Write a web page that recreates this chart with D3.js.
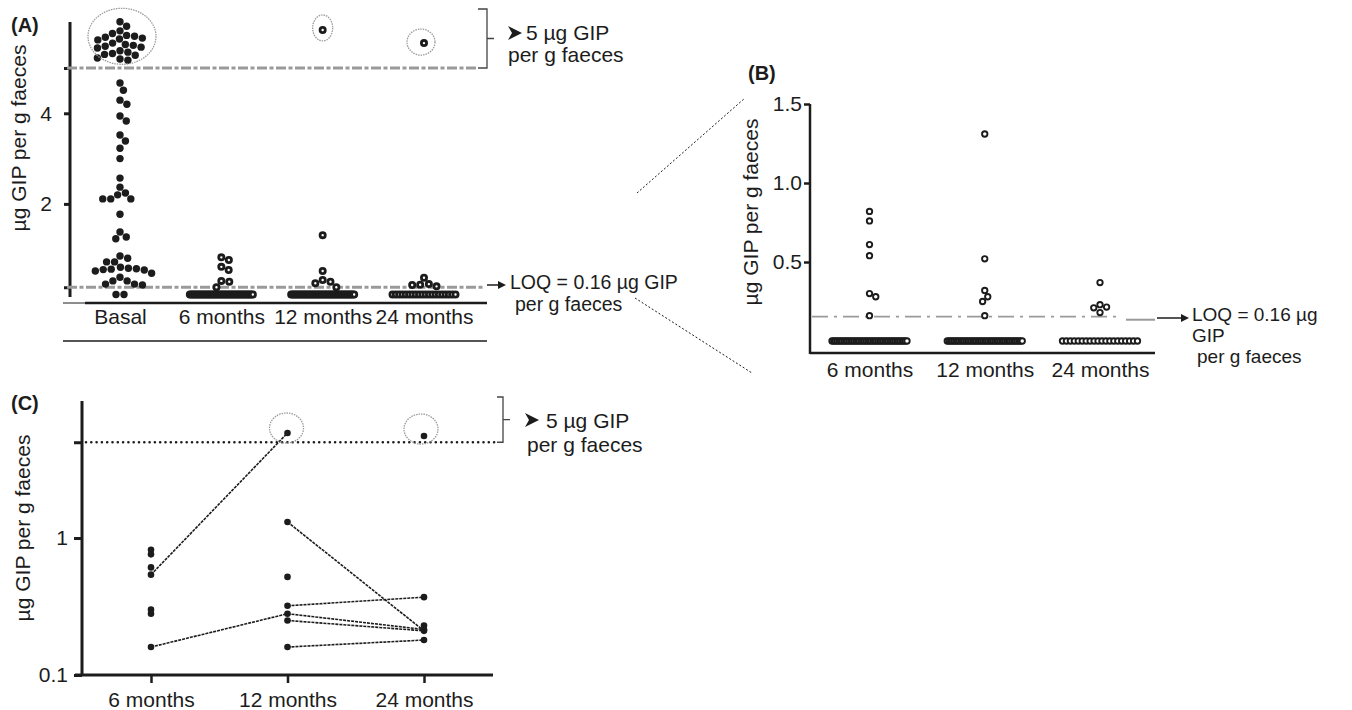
<!DOCTYPE html>
<html>
<head>
<meta charset="utf-8">
<script src="https://cdn.jsdelivr.net/npm/d3@7"></script>
<style>
  body { margin: 0; background: #fff; }
</style>
</head>
<body>
<div id="fig"></div>
<script>
// ---- data (µg GIP per g faeces) ----
const groupsA = ["Basal", "6 months", "12 months", "24 months"]
const groupsBC = ["6 months", "12 months", "24 months"]

const basal = [6.02, 5.92, 5.82, 5.76, 5.72, 5.7, 5.68, 5.66, 5.64, 5.62, 5.55, 5.52, 5.5,
    5.48, 5.46, 5.44, 5.38, 5.35, 5.32, 5.3, 5.28, 5.22, 5.2, 5.17,
    4.67, 4.51, 4.29, 4.2, 3.94, 3.83, 3.52, 3.39, 3.23, 3.0, 2.57, 2.37, 2.24, 2.2, 2.11, 2.11, 2.11,
    1.77, 1.38, 1.27, 1.23, 0.85, 0.8, 0.72, 0.72, 0.6, 0.58, 0.57, 0.56, 0.55, 0.54, 0.52, 0.47,
    0.38, 0.3, 0.3, 0.23, 0.21, 0.23]
const month6 = [0.82, 0.76, 0.61, 0.54, 0.3, 0.28, 0.16]
const month12 = [5.84, 1.31, 0.52, 0.32, 0.28, 0.25, 0.16]
const month24 = [5.55, 0.37, 0.23, 0.215, 0.21, 0.18]
// samples under the LOQ, drawn on the zero line (Basal, 6, 12, 24 months)
const belowLoq = [2, 45, 45, 20]

const loq = 0.16
const highCut = 5

const ticksA = [loq, 2, 4, highCut]
const ticksB = [0.5, 1.0, 1.5]
const ticksC = [0.1, 1, highCut]

// paired samples joined in panel C
const from6 = [0.54, 0.16], to12 = [5.84, 0.28]
const from12 = [1.31, 0.32, 0.28, 0.25, 0.16], to24 = [0.21, 0.37, 0.215, 0.21, 0.18]

// ---- setup ----
const font = '"Liberation Sans", Arial, sans-serif'
const ink = "#1c1c1c"
const grey = "#9a9a9a"

const svg = d3.select("#fig").append("svg")
    .attr("width", 1352)
    .attr("height", 710)
    .style("font-family", font)

// beeswarm: nearest free offset from the column centre
function swarm(vals, y, diam) {
    const placed = []
    vals.slice().sort((a, b) => b - a).forEach(v => {
        const py = y(v)
        const cands = [0]
        placed.forEach(p => {
            const dy = py - p.y
            if (Math.abs(dy) < diam) {
                const dx = Math.sqrt(diam * diam - dy * dy)
                cands.push(p.dx + dx, p.dx - dx)
            }
        })
        cands.sort((a, b) => Math.abs(a) - Math.abs(b))
        const dx = cands.find(c => placed.every(p => (p.dx - c) ** 2 + (p.y - py) ** 2 >= diam * diam - 0.01))
        placed.push({ v, y: py, dx })
    })
    return placed
}

// a packed row for the points below LOQ
function zeroRow(n, width, gap) {
    const s = n > 1 ? Math.min(gap, width / (n - 1)) : 0
    return d3.range(n).map(i => (i - (n - 1) / 2) * s)
}

function styleAxis(g, size, w) {
    g.select(".domain").remove()
    g.selectAll("text").attr("font-size", size).attr("font-family", font).attr("fill", ink)
    g.selectAll("line").attr("stroke", ink).attr("stroke-width", w)
}

function yLabel(x, y, txt) {
    svg.append("text")
        .attr("transform", `translate(${x}, ${y}) rotate(-90)`)
        .attr("text-anchor", "middle")
        .attr("font-size", 21)
        .attr("fill", ink)
        .text(txt)
}

function panelTag(x, y, txt) {
    svg.append("text").attr("x", x).attr("y", y)
        .attr("font-size", 20).attr("font-weight", "bold").attr("fill", ink)
        .text(txt)
}

function note(x, y, txt, size = 21) {
    svg.append("text").attr("x", x).attr("y", y)
        .attr("font-size", size).attr("fill", ink)
        .text(txt)
}

function arrowHead(x, y) {
    // the little 3D arrowhead in front of "5 µg GIP"
    svg.append("path")
        .attr("d", `M${x},${y - 7} L${x + 14},${y} L${x},${y + 7} L${x + 4},${y} Z`)
        .attr("fill", ink)
}

function bracket(x0, x1, yTop, yBot) {
    svg.append("path")
        .attr("d", `M${x0},${yTop} H${x1} V${yBot} H${x0} M${x1},${(yTop + yBot) / 2} H${x1 + 7}`)
        .attr("fill", "none").attr("stroke", "#444").attr("stroke-width", 1.3)
}

function ring(sel, cx, cy, rx, ry) {
    sel.append("ellipse")
        .attr("cx", cx).attr("cy", cy).attr("rx", rx).attr("ry", ry)
        .attr("fill", "none").attr("stroke", grey).attr("stroke-width", 1.3)
        .attr("stroke-dasharray", "1.5,1")
}

// ================= Panel A =================
const xA = d3.scalePoint().domain(groupsA).range([120, 424])
const yA = d3.scaleLinear().domain([0, 6]).range([294.5, 22.7])
const gA = svg.append("g")

panelTag(11, 32, "(A)")
yLabel(26, 138, "µg GIP per g faeces")

// y axis
gA.append("line").attr("x1", 70).attr("x2", 70).attr("y1", 22).attr("y2", 297)
    .attr("stroke", ink).attr("stroke-width", 3)
gA.append("g")
    .attr("transform", "translate(70, 0)")
    .call(d3.axisLeft(yA).tickValues(ticksA).tickSize(6).tickPadding(12)
        .tickFormat(d => (d === 2 || d === 4) ? d : ""))
    .call(g => styleAxis(g, 21, 3))

// x axis (labels only, plus the two rules)
gA.append("line").attr("x1", 63).attr("x2", 85).attr("y1", 303).attr("y2", 303)
    .attr("stroke", ink).attr("stroke-width", 1)
gA.append("line").attr("x1", 85).attr("x2", 487).attr("y1", 303).attr("y2", 303)
    .attr("stroke", ink).attr("stroke-width", 2.5)
gA.append("line").attr("x1", 63).attr("x2", 487).attr("y1", 341).attr("y2", 341)
    .attr("stroke", ink).attr("stroke-width", 1.5)
gA.append("g")
    .attr("transform", "translate(0, 303)")
    .call(d3.axisBottom(xA).tickSize(0).tickPadding(6))
    .call(g => styleAxis(g, 21, 0))

// reference lines
gA.append("line").attr("x1", 67).attr("x2", 478).attr("y1", yA(highCut)).attr("y2", yA(highCut))
    .attr("stroke", grey).attr("stroke-width", 3).attr("stroke-dasharray", "10,2.5,4,2.5")
gA.append("line").attr("x1", 67).attr("x2", 485).attr("y1", yA(loq)).attr("y2", yA(loq))
    .attr("stroke", grey).attr("stroke-width", 3).attr("stroke-dasharray", "10,2.5,4,2.5")

// points
const seriesA = [basal, month6, month12, month24]
seriesA.forEach((vals, i) => {
    const cx = xA(groupsA[i])
    const pts = swarm(vals, yA, 8).map(p => ({ x: cx + p.dx, y: p.y }))
    zeroRow(belowLoq[i], 63, 8).forEach(dx => pts.push({ x: cx + dx, y: yA(0) }))
    const dots = gA.append("g").selectAll("circle")
        .data(pts)
        .join("circle")
        .attr("cx", d => d.x)
        .attr("cy", d => d.y)
    if (i === 0) {
        dots.attr("r", 3.7).attr("fill", ink)
    } else {
        dots.attr("r", 2.6).attr("fill", "#fff").attr("stroke", ink).attr("stroke-width", 2.8)
    }
})

// circled samples above 5 µg
ring(gA, xA("Basal") + 2, yA(5.7), 34, 28)
ring(gA, xA("12 months"), yA(5.84) - 2, 10, 13)
ring(gA, xA("24 months") - 3, yA(5.55) - 1, 14, 13)

bracket(478, 487, 9, yA(highCut))
arrowHead(508, 33)
note(526, 40, "5 µg GIP")
note(508, 62, "per g faeces")

// LOQ note
svg.append("path").attr("d", "M487,285 H499").attr("stroke", ink).attr("stroke-width", 1.5)
svg.append("path").attr("d", "M498,281 L506,285 L498,289 Z").attr("fill", ink)
note(510, 289, "LOQ = 0.16 µg GIP", 19.5)
note(515, 311, "per g faeces", 19.5)

// zoom connectors A -> B
svg.append("path").attr("d", "M637,193 L745,98 M635,298 L752,373")
    .attr("fill", "none").attr("stroke", ink).attr("stroke-width", 1).attr("stroke-dasharray", "2,2")

// ================= Panel B =================
const xB = d3.scalePoint().domain(groupsBC).range([869.5, 1100])
const yB = d3.scaleLinear().domain([0, 1.5]).range([341, 104])
const gB = svg.append("g")

panelTag(748, 80, "(B)")
yLabel(758, 212, "µg GIP per g faeces")

gB.append("line").attr("x1", 810).attr("x2", 810).attr("y1", 104).attr("y2", 354)
    .attr("stroke", ink).attr("stroke-width", 2.5)
gB.append("line").attr("x1", 810).attr("x2", 1155).attr("y1", 353).attr("y2", 353)
    .attr("stroke", ink).attr("stroke-width", 2.5)
gB.append("g")
    .attr("transform", "translate(810, 0)")
    .call(d3.axisLeft(yB).tickValues(ticksB).tickSize(6).tickPadding(2).tickFormat(d3.format(".1f")))
    .call(g => styleAxis(g, 21, 2.5))
gB.append("g")
    .attr("transform", "translate(0, 353)")
    .call(d3.axisBottom(xB).tickSize(0).tickPadding(9))
    .call(g => styleAxis(g, 21, 0))

gB.append("line").attr("x1", 812).attr("x2", 1122).attr("y1", yB(loq) + 1).attr("y2", yB(loq) + 1)
    .attr("stroke", grey).attr("stroke-width", 1.8).attr("stroke-dasharray", "16,6,3,6")
gB.append("line").attr("x1", 1126).attr("x2", 1155).attr("y1", yB(loq) + 4).attr("y2", yB(loq) + 4)
    .attr("stroke", grey).attr("stroke-width", 2)

const seriesB = [month6, month12, month24]
seriesB.forEach((vals, i) => {
    const cx = xB(groupsBC[i])
    const pts = swarm(vals.filter(v => v <= 1.5), yB, 7).map(p => ({ x: cx + p.dx, y: p.y }))
    zeroRow(belowLoq[i + 1], 75, 7).forEach(dx => pts.push({ x: cx + dx, y: yB(0) }))
    gB.append("g").selectAll("circle")
        .data(pts)
        .join("circle")
        .attr("cx", d => d.x)
        .attr("cy", d => d.y)
        .attr("r", 2.7)
        .attr("fill", "#fff")
        .attr("stroke", ink)
        .attr("stroke-width", 1.9)
})

svg.append("path").attr("d", "M1157,318 H1182").attr("stroke", ink).attr("stroke-width", 1.5)
svg.append("path").attr("d", "M1181,314 L1189,318 L1181,322 Z").attr("fill", ink)
note(1192, 321, "LOQ = 0.16 µg", 19)
note(1192, 342, "GIP", 19)
note(1197, 363, "per g faeces", 19)

// ================= Panel C =================
const xC = d3.scalePoint().domain(groupsBC).range([151, 424])
const yC = d3.scaleLog().domain([0.1, 10]).range([675, 401])
const gC = svg.append("g")

panelTag(11, 410, "(C)")
yLabel(30, 528, "µg GIP per g faeces")

gC.append("line").attr("x1", 82).attr("x2", 82).attr("y1", 401).attr("y2", 676)
    .attr("stroke", ink).attr("stroke-width", 3)
gC.append("line").attr("x1", 75).attr("x2", 493).attr("y1", 675).attr("y2", 675)
    .attr("stroke", ink).attr("stroke-width", 3)
gC.append("g")
    .attr("transform", "translate(82, 0)")
    .call(d3.axisLeft(yC).tickValues(ticksC).tickSize(8).tickPadding(6)
        .tickFormat(d => d === highCut ? "" : d3.format("~g")(d)))
    .call(g => styleAxis(g, 21, 3))
gC.append("g")
    .attr("transform", "translate(0, 675)")
    .call(d3.axisBottom(xC).tickSize(8).tickPadding(9))
    .call(g => styleAxis(g, 21, 2.5))

gC.append("line").attr("x1", 86).attr("x2", 497).attr("y1", yC(highCut)).attr("y2", yC(highCut))
    .attr("stroke", ink).attr("stroke-width", 2.6).attr("stroke-linecap", "round")
    .attr("stroke-dasharray", "0,5.3")

// paired lines
const links = from6.map((v, i) => ({ a: "6 months", va: v, b: "12 months", vb: to12[i] }))
    .concat(from12.map((v, i) => ({ a: "12 months", va: v, b: "24 months", vb: to24[i] })))
gC.append("g").selectAll("line")
    .data(links)
    .join("line")
    .attr("x1", d => xC(d.a)).attr("y1", d => yC(d.va))
    .attr("x2", d => xC(d.b)).attr("y2", d => yC(d.vb))
    .attr("stroke", ink).attr("stroke-width", 1.6).attr("stroke-dasharray", "3,1")

seriesB.forEach((vals, i) => {
    gC.append("g").selectAll("circle")
        .data(vals)
        .join("circle")
        .attr("cx", xC(groupsBC[i]))
        .attr("cy", d => yC(d))
        .attr("r", 3.3)
        .attr("fill", ink)
})

ring(gC, xC("12 months") - 1, yC(5.84) - 5, 17, 15)
ring(gC, xC("24 months") - 3, yC(5.55) - 7, 17, 15)

bracket(497, 503, 397, yC(highCut))
arrowHead(525, 420)
note(546, 428, "5 µg GIP")
note(527, 452, "per g faeces")
</script>
</body>
</html>
